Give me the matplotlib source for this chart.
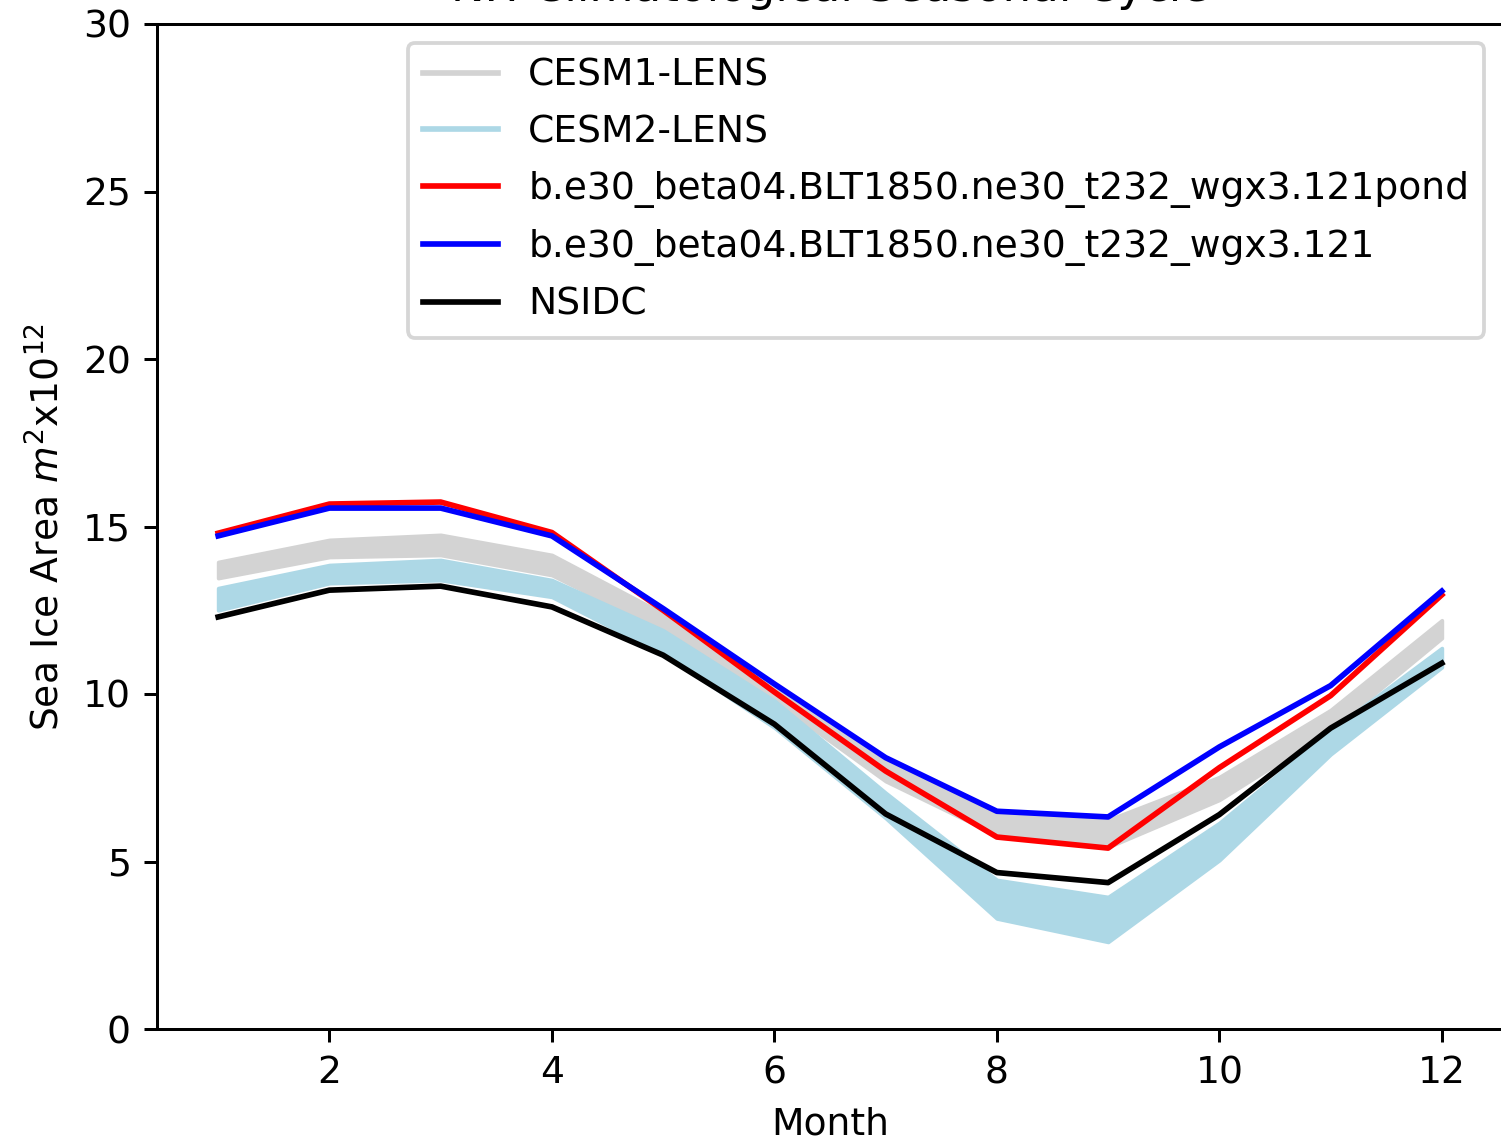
import matplotlib
matplotlib.use("Agg")
import matplotlib.pyplot as plt
from matplotlib.lines import Line2D
import numpy as np

# Monthly climatology, NH sea ice area (10^12 m^2)
months = np.arange(1, 13)

nsidc = [12.30, 13.10, 13.22, 12.60, 11.16, 9.10, 6.42, 4.67, 4.37, 6.40, 8.98, 10.92]
pond_run = [14.80, 15.67, 15.73, 14.82, 12.50, 10.06, 7.70, 5.73, 5.40, 7.80, 9.95, 12.96]
base_run = [14.72, 15.55, 15.55, 14.72, 12.55, 10.30, 8.10, 6.50, 6.33, 8.42, 10.25, 13.07]

# Ensemble envelopes (min / max across members)
cesm1_lo = [13.46, 14.09, 14.15, 13.55, 11.90, 9.80, 7.40, 5.79, 5.43, 6.84, 8.93, 11.67]
cesm1_hi = [13.94, 14.60, 14.75, 14.15, 12.40, 10.30, 8.10, 6.45, 6.24, 7.52, 9.52, 12.20]
cesm2_lo = [12.50, 13.31, 13.40, 12.90, 11.20, 9.00, 6.30, 3.30, 2.60, 5.04, 8.20, 10.80]
cesm2_hi = [13.16, 13.85, 14.00, 13.40, 11.90, 9.80, 7.05, 4.45, 3.94, 6.15, 8.90, 11.37]

labels = ["CESM1-LENS", "CESM2-LENS",
          "b.e30_beta04.BLT1850.ne30_t232_wgx3.121pond",
          "b.e30_beta04.BLT1850.ne30_t232_wgx3.121",
          "NSIDC"]
colors = ["lightgray", "lightblue", "red", "blue", "black"]

DPI = 271
fig = plt.figure(figsize=(1501 / DPI, 1143 / DPI), dpi=DPI)
ax = fig.add_axes([157 / 1501, 114 / 1143, 1346 / 1501, 1005 / 1143])

ax.fill_between(months, cesm1_lo, cesm1_hi, color=colors[0])
ax.fill_between(months, cesm2_lo, cesm2_hi, color=colors[1])
ax.plot(months, pond_run, color=colors[2])
ax.plot(months, base_run, color=colors[3])
ax.plot(months, nsidc, color=colors[4])

handles = [Line2D([], [], color=c) for c in colors]
ax.legend(handles, labels, loc="upper right", labelspacing=0.55)

ax.set_ylim(0, 30)
ax.set_xlim(0.45, 12.55)
ax.set_xlabel("Month")
ax.set_ylabel("Sea Ice Area $m^2$x10$^{12}$")
ax.set_title("NH Climatological Seasonal Cycle")

fig.savefig("out.png", dpi=DPI)
